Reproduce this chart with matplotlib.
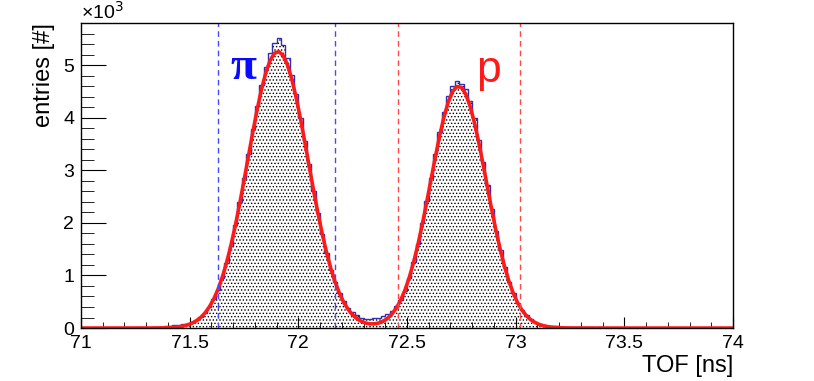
import matplotlib
matplotlib.use('Agg')
import matplotlib.pyplot as plt
import numpy as np
from matplotlib.ticker import MultipleLocator, FuncFormatter

plt.rcParams['font.family'] = ['Liberation Sans', 'DejaVu Sans']
plt.rcParams['hatch.linewidth'] = 0.6

# TOF histogram, 0.02 ns bins from 71.30 to 73.50 ns
bin_lo = 71.30
bin_width = 0.02
counts = [10, 15, 20, 25, 35, 45, 55, 60, 70, 85,
          110, 150, 210, 290, 400, 545, 720, 950, 1230, 1560,
          1960, 2390, 2850, 3300, 3780, 4220, 4620, 4960, 5230, 5420,
          5520, 5380, 5130, 4820, 4450, 4000, 3560, 3120, 2600, 2180,
          1780, 1420, 1110, 870, 670, 510, 390, 300, 240, 200,
          180, 175, 185, 200, 230, 270, 330, 420, 540, 710,
          950, 1250, 1600, 1990, 2420, 2860, 3300, 3730, 4100, 4420,
          4600, 4700, 4640, 4540, 4320, 3990, 3580, 3160, 2720, 2260,
          1850, 1480, 1160, 880, 660, 480, 345, 245, 170, 120,
          85, 60, 45, 35, 30, 25, 22, 20, 18, 20,
          15, 15, 12, 10, 12, 8, 6, 5, 3, 2]

# fit curve read at the bin centres
fit_vals = [1, 1, 2, 3, 5, 9, 15, 24, 38, 60,
            91, 136, 198, 284, 398, 545, 732, 965, 1245, 1573,
            1946, 2362, 2803, 3260, 3713, 4143, 4530, 4850, 5087, 5225,
            5258, 5182, 5003, 4730, 4382, 3976, 3534, 3075, 2622, 2190,
            1792, 1436, 1128, 867, 652, 481, 349, 249, 176, 126,
            95, 79, 80, 95, 129, 183, 263, 375, 522, 715,
            955, 1245, 1582, 1964, 2380, 2812, 3244, 3651, 4011, 4300,
            4499, 4593, 4576, 4449, 4223, 3910, 3532, 3114, 2680, 2252,
            1844, 1475, 1152, 878, 652, 473, 335, 232, 156, 103,
            66, 41, 25, 15, 9, 5, 3, 2, 1, 1,
            0, 0, 0, 0, 0, 0, 0, 0, 0, 0]

pion_cuts = [71.63, 72.17]
proton_cuts = [72.46, 73.02]

x_range = (71.0, 74.0)
y_max = 5800

# # # # # # # # # # # # # # # # # # # # # # # # # # # # # # # # # # # #
edges = bin_lo + bin_width*np.arange(len(counts) + 1)
centers = 0.5*(edges[:-1] + edges[1:])
fit_x = np.concatenate([[x_range[0]], centers, [x_range[1]]])
fit_y = np.concatenate([[0], fit_vals, [0]])

fig = plt.figure(figsize=(8.14, 3.81), dpi=100)
ax = fig.add_axes([0.0995, 0.139, 0.801, 0.8006])

# dotted fill + blue outline
ax.stairs(counts, edges, fill=True, facecolor='white', edgecolor='black',
          hatch='.....', linewidth=0)
ax.stairs(counts, edges, color='#2f2fb0', linewidth=1.0)
ax.plot(fit_x, fit_y, color='#ff1a1a', linewidth=2.6)

for c in pion_cuts:
    ax.axvline(c, color='#4848ff', linestyle=(0, (4, 3)), linewidth=1.0)
for c in proton_cuts:
    ax.axvline(c, color='#ff4848', linestyle=(0, (4, 3)), linewidth=1.0)

ax.text(71.745, 4950, '\u03c0', color='#0a0aff', fontsize=34, fontweight='bold',
        family=['Liberation Serif', 'DejaVu Serif'], ha='center', va='center')
ax.text(72.873, 4900, 'p', color='#ff1a1a', fontsize=32, ha='center', va='center')

ax.set_xlim(*x_range)
ax.set_ylim(0, y_max)
ax.xaxis.set_major_locator(MultipleLocator(0.5))
ax.xaxis.set_minor_locator(MultipleLocator(0.1))
ax.yaxis.set_major_locator(MultipleLocator(1000))
ax.yaxis.set_minor_locator(MultipleLocator(200))
ax.xaxis.set_major_formatter(FuncFormatter(lambda v, p: '{:g}'.format(v)))
ax.yaxis.set_major_formatter(FuncFormatter(lambda v, p: '{:g}'.format(v/1000)))
ax.tick_params(axis='both', which='both', direction='in', labelsize=14)
ax.tick_params(axis='x', which='major', length=8, pad=5)
ax.tick_params(axis='x', which='minor', length=4)
ax.tick_params(axis='y', which='major', length=18, pad=5)
ax.tick_params(axis='y', which='minor', length=9)
for sp in ax.spines.values():
    sp.set_linewidth(1.0)

ax.text(0, 1.0, '\u00d710$^{3}$', transform=ax.transAxes, fontsize=14,
        ha='left', va='bottom')
ax.set_xlabel('TOF [ns]', fontsize=17, loc='right', labelpad=2)
ax.set_ylabel('entries [#]', fontsize=17, loc='top', labelpad=6)

fig.savefig('out.png', dpi=100)
